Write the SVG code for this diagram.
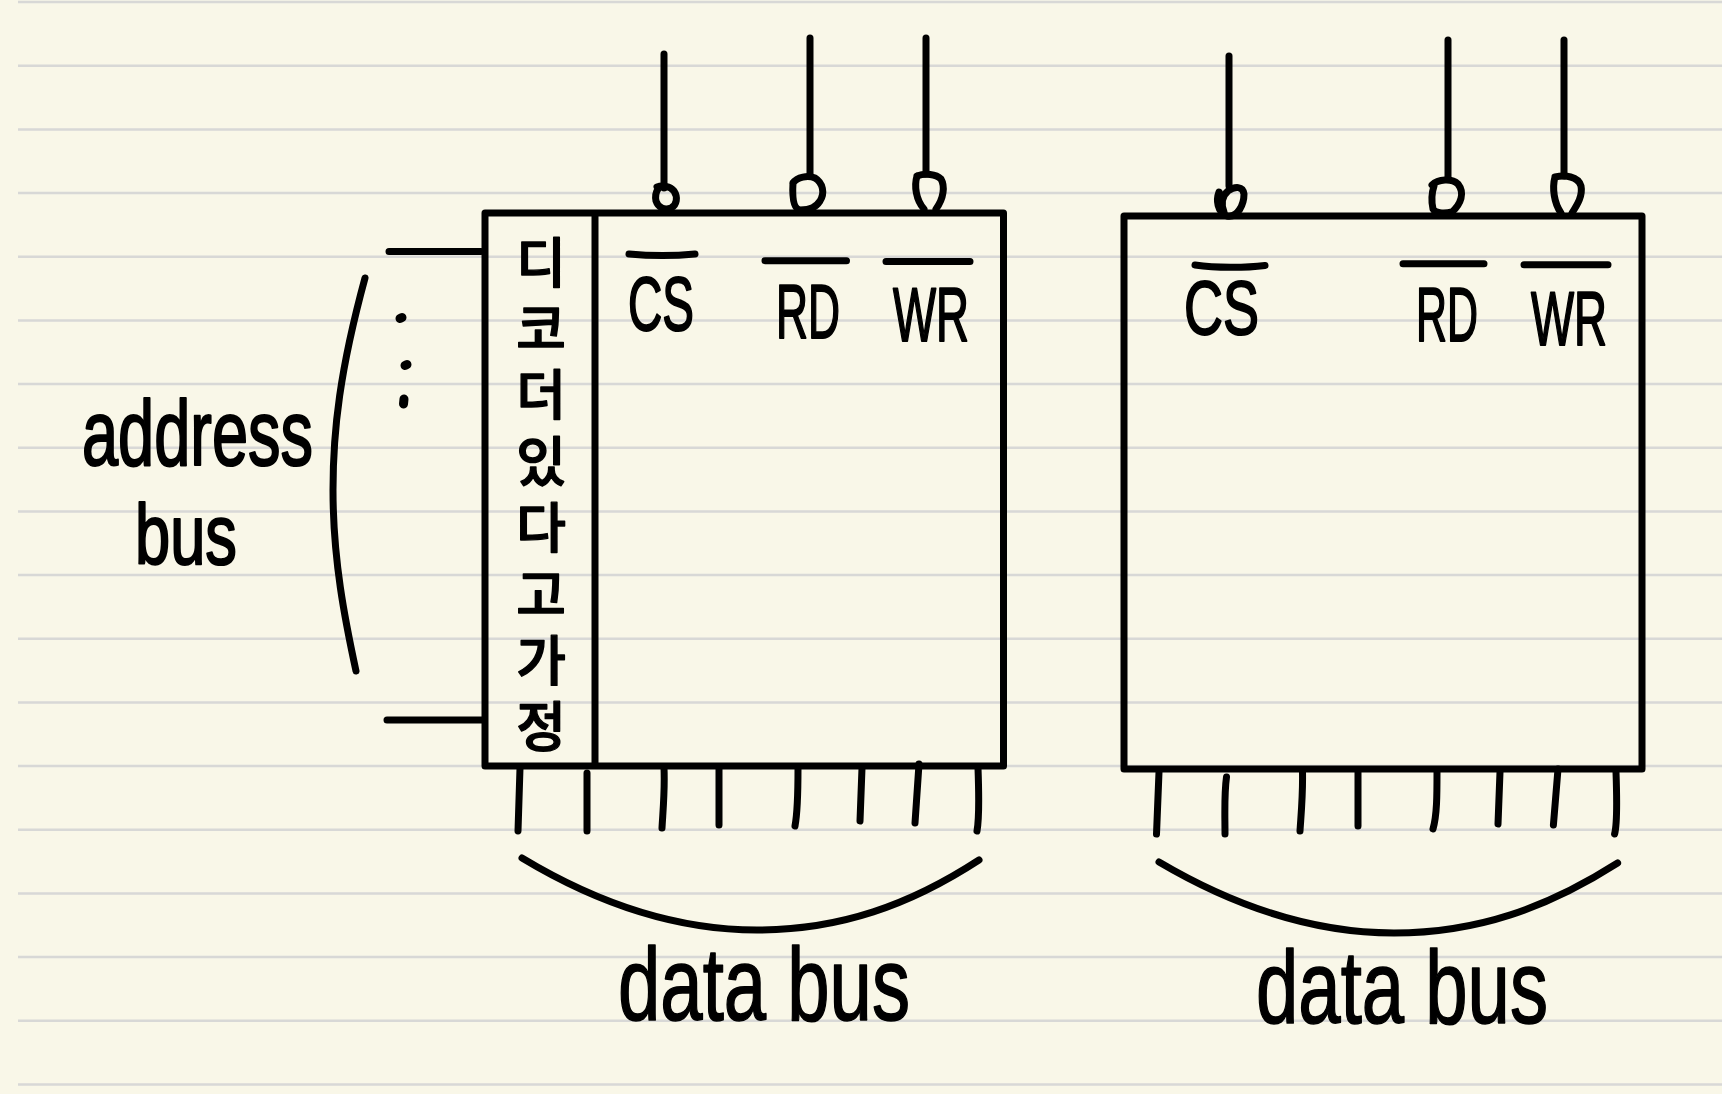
<svg xmlns="http://www.w3.org/2000/svg" width="1722" height="1094" viewBox="0 0 1722 1094">
<style>
.bg{fill:#f9f7e8}
.rule{stroke:#d8d8d6;stroke-width:2.5;fill:none}
.pen{stroke:#000;stroke-width:7;fill:none;stroke-linecap:round;stroke-linejoin:round}
.dot{stroke-width:9}
.box{stroke:#000;stroke-width:7;fill:none;stroke-linejoin:round}
.hand{font-family:"Liberation Sans",Arial,sans-serif;fill:#000;stroke:#000;stroke-width:1.6;stroke-linejoin:round}
.ko{font-family:"Noto Sans CJK KR",sans-serif;font-size:54px;font-weight:500;fill:#000;stroke:#000;stroke-width:1.4;stroke-linejoin:round;writing-mode:vertical-rl;letter-spacing:12.4px}
.cap{font-size:76px;stroke-width:2}
.addr{font-size:92px;stroke-width:2.2}
.addr2{font-size:86px;stroke-width:2.2}
.bus{font-size:104px}
</style>
<rect class="bg" width="1722" height="1094"/>
<g id="ruled-paper">
<path class="rule" d="M18 2H1722M18 65.700H1722M18 129.400H1722M18 193H1722M18 256.700H1722M18 320.400H1722M18 384H1722M18 447.700H1722M18 511.400H1722M18 575H1722M18 638.700H1722M18 702.400H1722M18 766H1722M18 829.700H1722M18 893.400H1722M18 957H1722M18 1020.700H1722M18 1084.400H1722"/>
</g>
<g id="connectors">
<path class="pen" d="M664 54V188M810 38V176M926 38V174"/>
<path class="pen" d="M657 187C662 185 670 186 674 191C678 197 677 205 671 208C664 211 658 207 656 201C655 196 656 192 658 189"/>
<path class="pen" d="M793 183C797 177 808 175 815 178C823 183 825 193 820 201C816 207 811 210 800 210C794 209 792 200 793 183"/>
<path class="pen" d="M917 176C925 173 936 174 941 179C945 186 944 198 936 209M917 176C914 186 916 200 924 209"/>
<path class="pen" d="M1229 56V186"/>
<path class="pen" d="M1219 192C1216 200 1217 212 1227 216C1238 218 1244 204 1244 194C1243 186 1235 186 1228 191C1222 196 1221 204 1224 212"/>
<path class="pen" d="M1448 40V178"/>
<path class="pen" d="M1432 185C1438 179 1452 178 1458 184C1465 193 1461 204 1452 212C1443 214 1435 213 1433 209C1431 200 1432 192 1434 186"/>
<path class="pen" d="M1564 40V176"/>
<path class="pen" d="M1555 177C1565 175 1578 176 1581 186C1583 196 1577 205 1572 213M1555 177C1552 188 1554 203 1561 213"/>
<path class="pen" d="M389 251.500H481M387 720H483"/>
<path class="pen" d="M520 768L518 831M587 773L587 831M664 768C665 790 663 810 662 828M719 768V825M798 768C798 790 798 810 795 826M862 768L860 821M919 764L915 823M978 768C979 795 979 820 977 831"/>
<path class="pen" d="M1159 772L1156.500 834M1226.500 777C1224 795 1225 815 1225 834M1302.500 772C1303 795 1301 815 1300 831M1358 772V826M1437 772C1437 795 1437 815 1433 829M1500 772L1498 824M1558 769L1553.400 825M1616 772C1617 800 1617 825 1614.600 834"/>
<path class="pen" d="M522 858C600 905 680 930 757 930C840 930 910 905 979 860"/>
<path class="pen" d="M1159 862C1237 908 1317 933 1394 933C1477 933 1547 908 1617.600 863"/>
<path class="pen" d="M365 278C340 370 333 430 333 490C333 560 345 620 356 671"/>
<path class="pen dot" d="M400 318.500L402 317.500M405 365.500L407 364.500M404 399L403.500 404"/>
</g>
<g id="chip-left">
<rect class="box" x="485" y="213" width="518.500" height="553"/>
<path class="box" d="M595 213V766"/>
<path class="pen" d="M629 254C650 256 675 256 695 254M765 260.700H846.500M886 261.500H970"/>
<text class="hand cap" x="628" y="330" textLength="66" lengthAdjust="spacingAndGlyphs">CS</text>
<text class="hand cap" x="776" y="338" textLength="64" lengthAdjust="spacingAndGlyphs">RD</text>
<text class="hand cap" x="893" y="341" textLength="76" lengthAdjust="spacingAndGlyphs">WR</text>
<text class="ko" id="decoder-label" x="541" y="235">디코더있다고가정</text>
</g>
<g id="chip-right">
<rect class="box" x="1124" y="216" width="518" height="553"/>
<path class="pen" d="M1195 265C1216 268 1245 268 1265 265.500M1403 263.700H1484M1524 264.700H1608"/>
<text class="hand cap" x="1184" y="334" textLength="75" lengthAdjust="spacingAndGlyphs">CS</text>
<text class="hand cap" x="1416" y="341" textLength="62" lengthAdjust="spacingAndGlyphs">RD</text>
<text class="hand cap" x="1531" y="345" textLength="76" lengthAdjust="spacingAndGlyphs">WR</text>
</g>
<g id="address-bus-label">
<text class="hand addr" x="82" y="465" textLength="231" lengthAdjust="spacingAndGlyphs">address</text>
<text class="hand addr2" x="135" y="564" textLength="102" lengthAdjust="spacingAndGlyphs">bus</text>
</g>
<g id="data-bus-left-label">
<text class="hand bus" x="618" y="1020" textLength="292" lengthAdjust="spacingAndGlyphs">data bus</text>
</g>
<g id="data-bus-right-label">
<text class="hand bus" x="1256" y="1023" textLength="292" lengthAdjust="spacingAndGlyphs">data bus</text>
</g>
</svg>
